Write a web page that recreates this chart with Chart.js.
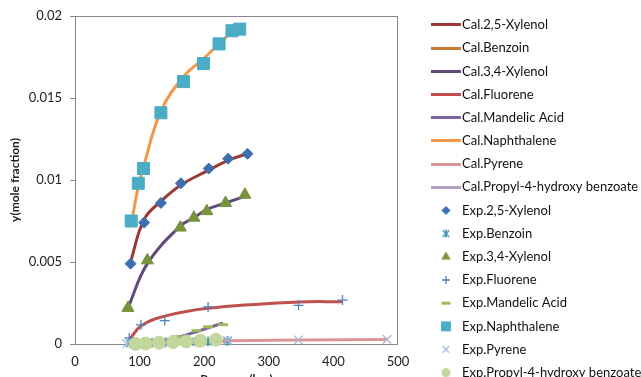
<!DOCTYPE html>
<html><head><meta charset="utf-8">
<script src="https://cdn.jsdelivr.net/npm/chart.js@4.4.1/dist/chart.umd.min.js"></script>
<style>html,body{margin:0;padding:0;overflow:hidden;background:#fff;width:641px;height:377px}canvas{display:block}</style>
</head><body>
<canvas id="c" width="641" height="388"></canvas>
<script>
// ---- data (pressure in bar, y in mole fraction) ----
const compounds = ['2,5-Xylenol','Benzoin','3,4-Xylenol','Fluorene','Mandelic Acid','Naphthalene','Pyrene','Propyl-4-hydroxy benzoate'];

const pXylenol25 = [86, 107, 133, 164, 207, 237, 267];
const expXylenol25 = [0.0049, 0.0074, 0.0086, 0.0098, 0.0107, 0.0113, 0.0116];
const calXylenol25 = [0.0050, 0.0076, 0.0087, 0.0097, 0.0106, 0.0112, 0.0116];

const pBenzoin = [85, 119, 140, 188, 206, 236];
const expBenzoin = [0.00005, 0.00008, 0.0001, 0.00014, 0.00016, 0.00019];
const calBenzoin = [0.00006, 0.00008, 0.0001, 0.00014, 0.00016, 0.00019];

const pXylenol34 = [82, 112, 163, 184, 204, 233, 263];
const expXylenol34 = [0.0022, 0.0051, 0.0071, 0.0077, 0.0081, 0.0086, 0.0091];
const calXylenol34 = [0.0022, 0.0049, 0.0072, 0.0077, 0.0082, 0.0086, 0.0090];

const pFluorene = [84, 102, 139, 206, 346, 414];
const expFluorene = [0.00037, 0.00117, 0.00143, 0.00226, 0.00236, 0.00268];
const calFluorene = [0.00025, 0.0011, 0.0017, 0.00218, 0.00256, 0.00258];

const pMandelic = [120, 157, 188, 206, 229];
const expMandelic = [0.0001, 0.00045, 0.00081, 0.00105, 0.00118];
const calMandelic = [0.00005, 0.00038, 0.00075, 0.00098, 0.00128];

const pNaphthalene = [87, 98, 106, 133, 168, 199, 223, 243, 255];
const expNaphthalene = [0.0075, 0.0098, 0.0107, 0.0141, 0.0160, 0.0171, 0.0183, 0.0191, 0.0192];
const calNaphthalene = [0.0073, 0.0096, 0.0108, 0.0142, 0.0163, 0.0174, 0.0183, 0.0190, 0.0192];

const pPyrene = [80, 236, 346, 483];
const expPyrene = [0.00002, 0.00021, 0.00025, 0.00029];
const calPyrene = [0.00004, 0.00020, 0.00024, 0.00028];

const pPropyl = [94, 109, 130, 152, 172, 194, 218];
const expPropyl = [0.00001, 0.00003, 0.00008, 0.00012, 0.00016, 0.0002, 0.00026];
const calPropyl = [0.00001, 0.00004, 0.00008, 0.00012, 0.00016, 0.0002, 0.00025];

const xTicks = [0, 100, 200, 300, 400, 500];
const yTicks = [0, 0.005, 0.01, 0.015, 0.02];

const pressures = [pXylenol25, pBenzoin, pXylenol34, pFluorene, pMandelic, pNaphthalene, pPyrene, pPropyl];
const expValues = [expXylenol25, expBenzoin, expXylenol34, expFluorene, expMandelic, expNaphthalene, expPyrene, expPropyl];
const calValues = [calXylenol25, calBenzoin, calXylenol34, calFluorene, calMandelic, calNaphthalene, calPyrene, calPropyl];

// ---- styles ----
const calColors = ['#9b3a36','#c97b36','#604a7b','#c0504d','#8064a2','#f79646','#d99694','#b3a2c7'];
const expColors = ['#3d6ead','#3b93ab','#77933c','#4f81bd','#9bbb59','#4bacc6','#a7b6dc','#c3d69b'];
const expStyles = ['rectRot','asterisk','triangle','cross','line','rect','crossRot','circle'];
const expRadii = [5.5, 5, 7, 5, 5, 8.5, 6, 6.5];
const expLw = [1, 1.5, 1, 1.3, 3, 1, 1.3, 1];
const legRadii = [4.5, 4, 5.5, 4, 4.5, 7, 4.5, 4.5];

function drawShape(g, style, cx, cy, r, lw, color){
  g.fillStyle = color; g.strokeStyle = color; g.lineWidth = lw; g.beginPath();
  switch(style){
    case 'rect': g.rect(cx - r*Math.SQRT1_2, cy - r*Math.SQRT1_2, 2*r*Math.SQRT1_2, 2*r*Math.SQRT1_2); g.fill(); break;
    case 'rectRot': g.moveTo(cx, cy - r); g.lineTo(cx + r, cy); g.lineTo(cx, cy + r); g.lineTo(cx - r, cy); g.closePath(); g.fill(); break;
    case 'triangle': g.moveTo(cx, cy - r); g.lineTo(cx + r*Math.sin(2*Math.PI/3), cy + r*0.5); g.lineTo(cx - r*Math.sin(2*Math.PI/3), cy + r*0.5); g.closePath(); g.fill(); break;
    case 'circle': g.arc(cx, cy, r, 0, Math.PI*2); g.fill(); break;
    case 'cross': g.moveTo(cx - r, cy); g.lineTo(cx + r, cy); g.moveTo(cx, cy - r); g.lineTo(cx, cy + r); g.stroke(); break;
    case 'crossRot': { const a = r*Math.SQRT1_2; g.moveTo(cx - a, cy - a); g.lineTo(cx + a, cy + a); g.moveTo(cx + a, cy - a); g.lineTo(cx - a, cy + a); g.stroke(); break; }
    case 'line': g.moveTo(cx - r, cy); g.lineTo(cx + r, cy); g.stroke(); break;
    case 'asterisk': { const a = r*0.8; g.moveTo(cx - a, cy - a); g.lineTo(cx + a, cy + a); g.moveTo(cx + a, cy - a); g.lineTo(cx - a, cy + a); g.moveTo(cx, cy - r); g.lineTo(cx, cy + r); g.stroke(); break; }
  }
}
function markerCanvas(style, color, r, lw){
  const s = Math.ceil(2*r + 4);
  const c = document.createElement('canvas'); c.width = s; c.height = s;
  drawShape(c.getContext('2d'), style, s/2, s/2, r, lw, color);
  return c;
}
function lineCanvas(color){
  const c = document.createElement('canvas'); c.width = 30; c.height = 3;
  const g = c.getContext('2d'); g.fillStyle = color; g.fillRect(0, 0, 30, 3);
  return c;
}

const datasets = [];
const legendIcons = [];
compounds.forEach((name, i) => {
  datasets.push({
    label: 'Cal.' + name,
    data: pressures[i].map((p, k) => ({x: p, y: calValues[i][k]})),
    borderColor: calColors[i], backgroundColor: calColors[i],
    borderWidth: 3, pointRadius: 0, tension: 0.4, showLine: true, fill: false,
    order: 100 - i, clip: false
  });
  legendIcons.push(lineCanvas(calColors[i]));
});
compounds.forEach((name, i) => {
  const st = expStyles[i];
  datasets.push({
    label: 'Exp.' + name,
    data: pressures[i].map((p, k) => ({x: p, y: expValues[i][k]})),
    borderColor: expColors[i], backgroundColor: expColors[i],
    showLine: false,
    pointStyle: st === 'asterisk' ? markerCanvas('asterisk', expColors[i], expRadii[i], expLw[i]) : st,
    pointRadius: expRadii[i], pointBorderWidth: expLw[i],
    order: 50 - i, clip: false
  });
  legendIcons.push(markerCanvas(st, expColors[i], legRadii[i], expLw[i]));
});

const FONT = 'Lato, "Open Sans", sans-serif';
Chart.defaults.font.family = FONT;
Chart.defaults.color = '#222';

const framePlugin = {
  id: 'frame',
  beforeDatasetsDraw(chart){
    const {ctx, chartArea: a} = chart;
    ctx.save(); ctx.strokeStyle = '#868686'; ctx.lineWidth = 1;
    ctx.strokeRect(Math.round(a.left) + 0.5, Math.round(a.top) + 0.5, Math.round(a.right - a.left) - 1, Math.round(a.bottom - a.top));
    ctx.restore();
  }
};
const legendPlugin = {
  id: 'legendPos',
  afterInit(chart){
    const lg = chart.legend; const orig = lg.fit.bind(lg);
    lg.fit = function(){ orig(); this.width = 243; };
  },
  afterLayout(chart){
    const lg = chart.legend;
    lg.left = 426.3; lg.right = 426.3 + 243; lg.width = 243;
    lg.top = 8.3; lg.bottom = 1000; lg.height = 1000 - 8.3;
  }
};

new Chart(document.getElementById('c'), {
  type: 'scatter',
  data: { datasets },
  options: {
    responsive: false, animation: false, events: [],
    layout: { padding: { top: 16, left: 0, right: 0, bottom: 0 } },
    scales: {
      x: {
        type: 'linear', min: xTicks[0], max: xTicks[xTicks.length - 1],
        afterBuildTicks: s => { s.ticks = xTicks.map(v => ({value: v})); },
        ticks: { color: '#222', font: { size: 13 }, padding: 9.7 },
        grid: { display: false, drawTicks: false },
        border: { display: false },
        title: { display: true, text: 'Pressure (bar)', color: '#222', font: { size: 12, weight: 'bold' }, padding: { top: 0, bottom: 1.8 } },
        afterFit: s => { s.height = 44; }
      },
      y: {
        type: 'linear', min: yTicks[0], max: yTicks[yTicks.length - 1],
        afterBuildTicks: s => { s.ticks = yTicks.map(v => ({value: v})); },
        ticks: { color: '#222', font: { size: 13 }, padding: 8, callback: v => String(+Number(v).toFixed(3)) },
        grid: { display: true, drawOnChartArea: false, drawTicks: true, tickLength: 5, color: '#868686' },
        border: { display: false },
        title: { display: true, text: 'y(mole fraction)', color: '#222', font: { size: 12, weight: 'bold' }, padding: { top: 8, bottom: 0 } },
        afterFit: s => { s.width = 75; }
      }
    },
    plugins: {
      tooltip: { enabled: false },
      legend: {
        position: 'right', align: 'start',
        labels: {
          usePointStyle: true, pointStyleWidth: 19, padding: 10.18,
          color: '#111', font: { size: 13, family: FONT },
          sort: (a, b) => a.datasetIndex - b.datasetIndex,
          generateLabels: chart => {
            const items = Chart.defaults.plugins.legend.labels.generateLabels(chart);
            items.forEach(it => { it.pointStyle = legendIcons[it.datasetIndex]; it.rotation = 0; });
            return items;
          }
        }
      }
    }
  },
  plugins: [framePlugin, legendPlugin]
});
</script>
</body></html>
